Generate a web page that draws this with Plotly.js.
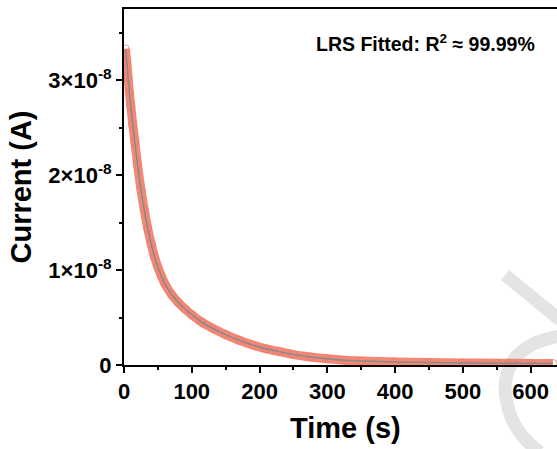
<!DOCTYPE html>
<html>
<head>
<meta charset="utf-8">
<script src="https://cdn.plot.ly/plotly-3.0.1.min.js"></script>
<style>
  html, body { margin: 0; padding: 0; background: #ffffff; overflow: hidden; }
  #chart { width: 557px; height: 449px; }
</style>
</head>
<body>
<div id="chart"></div>
<script>
// Time (s) of the read-off points
const timeS = [2, 4, 6, 8, 10, 13, 16, 20, 25, 30, 35, 40, 45, 50, 55, 60, 70, 80, 90, 100,
  115, 130, 150, 170, 190, 210, 230, 250, 275, 300, 325, 350, 400, 450, 500, 550, 600, 633];
const currentA = [3.33e-8, 3.20e-8, 3.03e-8, 2.87e-8, 2.73e-8, 2.53e-8, 2.35e-8, 2.11e-8, 1.85e-8,
  1.63e-8, 1.44e-8, 1.28e-8, 1.14e-8, 1.03e-8, 0.94e-8, 0.86e-8, 0.745e-8, 0.66e-8, 0.59e-8, 0.53e-8,
  0.45e-8, 0.39e-8, 0.32e-8, 0.26e-8, 0.21e-8, 0.17e-8, 0.14e-8, 0.11e-8, 0.085e-8, 0.065e-8,
  0.05e-8, 0.042e-8, 0.032e-8, 0.026e-8, 0.022e-8, 0.019e-8, 0.017e-8, 0.016e-8];
// Fitted curve (R^2 ≈ 99.99%, follows the data)
const fitCurrentA = currentA.slice();

const xTickVals = [0, 100, 200, 300, 400, 500, 600];
const xTickText = ['0', '100', '200', '300', '400', '500', '600'];
const yTickVals = [0, 1e-8, 2e-8, 3e-8];
const yTickText = ['0', '1×10<sup>-8</sup>', '2×10<sup>-8</sup>', '3×10<sup>-8</sup>'];

const annotationText = 'LRS Fitted: R<sup>2</sup> ≈ 99.99%';
const xTitle = 'Time (s)';
const yTitle = 'Current (A)';

const FONT = 'Liberation Sans, Arial, sans-serif';

// pixel -> paper helpers for layout placement
const PL = 124, PW = 433, PB = 365, PH = 356;
const px = v => ((v - PL) / PW).toFixed(4);
const py = v => ((PB - v) / PH).toFixed(4);

const traces = [
  {
    x: timeS, y: currentA, type: 'scatter', mode: 'lines+markers',
    name: 'Data',
    line: { color: 'rgba(242,110,88,0.82)', width: 9, shape: 'spline', smoothing: 0.7 },
    marker: { symbol: 'circle-open', size: 8, color: 'rgba(240,120,100,0.7)', line: { width: 1 } },
    hoverinfo: 'skip', showlegend: false
  },
  {
    x: timeS, y: fitCurrentA, type: 'scatter', mode: 'lines',
    name: 'Fit',
    line: { color: '#8a8a8a', width: 1.6, shape: 'spline', smoothing: 0.7 },
    hoverinfo: 'skip', showlegend: false
  }
];

const layout = {
  width: 557, height: 449,
  margin: { l: 124, r: 0, t: 9, b: 84, pad: 0 },
  paper_bgcolor: '#ffffff', plot_bgcolor: 'rgba(0,0,0,0)',
  font: { family: FONT, color: '#000000' },
  showlegend: false,
  xaxis: {
    range: [0, 639],
    showgrid: false, zeroline: false,
    showline: true, linecolor: '#000000', linewidth: 2, mirror: true,
    ticks: 'outside', ticklen: 6, tickwidth: 2, tickcolor: '#000000',
    tickmode: 'array', tickvals: xTickVals, ticktext: xTickText,
    tickfont: { family: FONT, size: 22, color: '#000000', weight: 'bold' },
    minor: { tickmode: 'linear', tick0: 0, dtick: 50, ticks: 'outside', ticklen: 3, tickwidth: 2, tickcolor: '#000000' }
  },
  yaxis: {
    range: [0, 3.75e-8],
    showgrid: false, zeroline: false,
    showline: true, linecolor: '#000000', linewidth: 2, mirror: false,
    ticks: 'outside', ticklen: 6, tickwidth: 2, tickcolor: '#000000',
    tickmode: 'array', tickvals: yTickVals, ticktext: yTickText,
    tickfont: { family: FONT, size: 22, color: '#000000', weight: 'bold' },
    minor: { tickmode: 'linear', tick0: 0, dtick: 0.5e-8, ticks: 'outside', ticklen: 3, tickwidth: 2, tickcolor: '#000000' },
    title: { text: yTitle, font: { family: FONT, size: 29, color: '#000000', weight: 'bold' }, standoff: 8 }
  },
  shapes: [
    {
      type: 'path', xref: 'paper', yref: 'paper', layer: 'below',
      path: `M ${px(505)} ${py(275)} L ${px(560)} ${py(320)}`,
      line: { color: '#e4e4e4', width: 13 }
    },
    {
      type: 'path', xref: 'paper', yref: 'paper', layer: 'below',
      path: `M ${px(560)} ${py(336)} Q ${px(505)} ${py(345)} ${px(505)} ${py(390)} Q ${px(508)} ${py(430)} ${px(540)} ${py(452)}`,
      line: { color: '#e4e4e4', width: 13 }
    }
  ],
  annotations: [
    {
      text: annotationText, xref: 'paper', yref: 'paper',
      x: 0.697, y: 0.905, xanchor: 'center', yanchor: 'middle', showarrow: false,
      font: { family: FONT, size: 19.5, color: '#000000', weight: 'bold' }
    },
    {
      text: xTitle, xref: 'paper', yref: 'paper',
      x: Number(px(345)), y: Number(py(428)), xanchor: 'center', yanchor: 'middle', showarrow: false,
      font: { family: FONT, size: 29, color: '#000000', weight: 'bold' }
    }
  ]
};

Plotly.newPlot('chart', traces, layout, { displayModeBar: false, staticPlot: true });
</script>
</body>
</html>
